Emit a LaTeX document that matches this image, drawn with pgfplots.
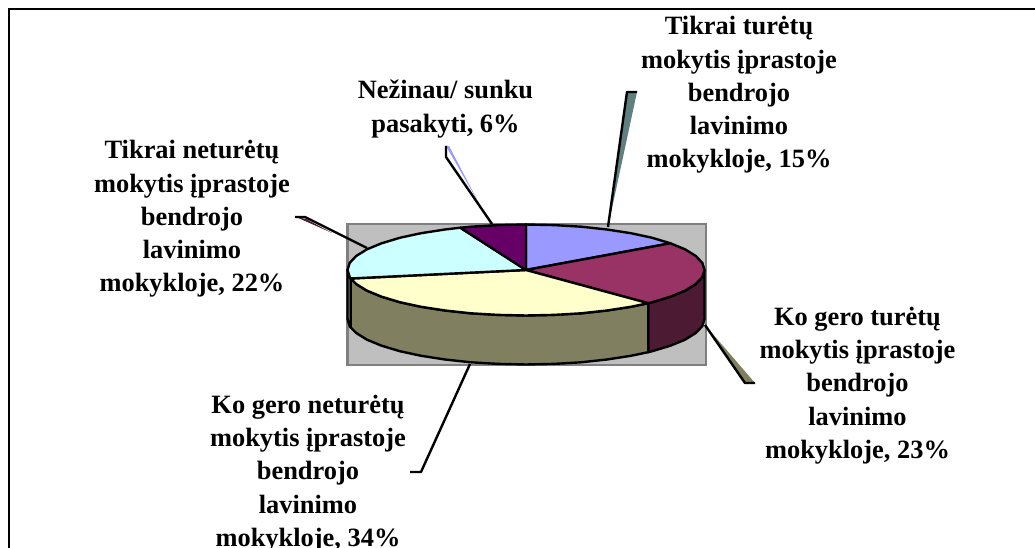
\documentclass[border=0pt]{standalone}
\usepackage{fontspec}
\setmainfont{Liberation Serif}
\usepackage{pgfplots}
\pgfplotsset{compat=1.18}
\definecolor{sliceA}{HTML}{9999FF}
\definecolor{sliceB}{HTML}{993366}
\definecolor{sliceC}{HTML}{FFFFCC}
\definecolor{sliceD}{HTML}{CCFFFF}
\definecolor{sliceE}{HTML}{660066}
\definecolor{wallB}{HTML}{4D1A33}
\definecolor{wallC}{HTML}{808060}
\definecolor{wallD}{HTML}{608080}
\tikzset{lbl/.style={font=\fontsize{19.8}{24.9}\selectfont\bfseries,align=center,anchor=center,inner sep=0pt}}
\begin{document}
\begin{tikzpicture}
\path[use as bounding box,clip] (0,0) rectangle (776.25pt,411pt);
\begin{axis}[
  at={(0pt,0pt)},anchor=south west,
  scale only axis,
  width=776.25pt,height=411pt,
  xmin=0,xmax=1035,ymin=0,ymax=548,
  y dir=reverse,
  hide axis,
  clip=false,
  every axis plot/.append style={line join=round,line width=1.8pt}
]
% outer frame, open at the right and bottom
\addplot[black,line width=2.2pt,line join=miter] coordinates {(9,548) (9,9) (1035,9)};
% plot area
\addplot[fill=black!25,draw=black!50,line join=miter] coordinates {(347.5,224) (706,224) (706,365) (347.5,365)} -- cycle;

% leader lines with their slivers
\addplot[fill=wallD,draw=none] coordinates {(627,92) (637,92) (608,227)} -- cycle;
\addplot[black] coordinates {(608,227) (627,92) (637,92)};
\addplot[fill=sliceA,draw=none] coordinates {(446,146) (449,146) (480,205)} -- cycle;
\addplot[black] coordinates {(492,224) (446,157) (446,146)};
\addplot[fill=wallB,draw=none] coordinates {(296,217) (306,219) (332,233)} -- cycle;
\addplot[black] coordinates {(367,248) (305,217) (295,217)};
\addplot[fill=wallC,draw=none] coordinates {(705,325) (745,383) (755,383)} -- cycle;
\addplot[black] coordinates {(705,325) (745,383) (755,383)};
\addplot[black] coordinates {(470,364) (421,472) (410,472)};

% side walls
\addplot[fill=wallB,draw=black] coordinates {
  (704.5,270) (702.3,277.1) (695.8,284) (685,290.7) (670.4,296.7) (652.2,302.2) (648.2,303.2)
  (648.2,352.2) (652.2,351.2) (670.4,345.7) (685,339.7) (695.8,333) (702.3,326.1) (704.5,319)
} -- cycle;
\addplot[fill=wallC,draw=black] coordinates {
  (648.2,303.2) (630.9,306.8) (607,310.5) (581.2,313.3) (553.9,314.9) (526,315.5) (498.1,314.9)
  (470.8,313.3) (445,310.5) (421.1,306.8) (399.8,302.2) (381.6,296.7) (367,290.7) (356.2,284) (350.7,278.5)
  (350.7,327.5) (356.2,333) (367,339.7) (381.6,345.7) (399.8,351.2) (421.1,355.8) (445,359.5)
  (470.8,362.3) (498.1,363.9) (526,364.5) (553.9,363.9) (581.2,362.3) (607,359.5) (630.9,355.8) (648.2,352.2)
} -- cycle;
\addplot[fill=wallD,draw=black] coordinates {
  (350.7,278.5) (349.7,277.1) (347.5,270) (347.5,319) (349.7,326.1) (350.7,327.5)
} -- cycle;

% top faces, clockwise from twelve o'clock: 15, 23, 34, 22, 6 percent
\addplot[fill=sliceA,draw=black] coordinates {
  (526,270) (526,224.5) (553.9,225.1) (581.2,226.7) (607,229.5) (630.9,233.2) (652.2,237.8) (670.4,243.3)
} -- cycle;
\addplot[fill=sliceB,draw=black] coordinates {
  (526,270) (670.4,243.3) (685,249.3) (695.8,256) (702.3,262.9) (704.5,270) (702.3,277.1) (695.8,284)
  (685,290.7) (670.4,296.7) (652.2,302.2) (648.2,303.2)
} -- cycle;
\addplot[fill=sliceC,draw=black] coordinates {
  (526,270) (648.2,303.2) (630.9,306.8) (607,310.5) (581.2,313.3) (553.9,314.9) (526,315.5) (498.1,314.9)
  (470.8,313.3) (445,310.5) (421.1,306.8) (399.8,302.2) (381.6,296.7) (367,290.7) (356.2,284) (350.7,278.5)
} -- cycle;
\addplot[fill=sliceD,draw=black] coordinates {
  (526,270) (350.7,278.5) (349.7,277.1) (347.5,270) (349.7,262.9) (356.2,256) (367,249.3) (381.6,243.3)
  (399.8,237.8) (421.1,233.2) (445,229.5) (460.3,227.7)
} -- cycle;
\addplot[fill=sliceE,draw=black] coordinates {
  (526,270) (460.3,227.7) (470.8,226.7) (498.1,225.1) (526,224.5)
} -- cycle;

% labels
\node[lbl] at (axis cs:739,95) {Tikrai turėtų\\mokytis įprastoje\\bendrojo\\lavinimo\\mokykloje, 15\%};
\node[lbl] at (axis cs:445.5,109) {Nežinau/ sunku\\pasakyti, 6\%};
\node[lbl] at (axis cs:192,219) {Tikrai neturėtų\\mokytis įprastoje\\bendrojo\\lavinimo\\mokykloje, 22\%};
\node[lbl] at (axis cs:857.5,385.5) {Ko gero turėtų\\mokytis įprastoje\\bendrojo\\lavinimo\\mokykloje, 23\%};
\node[lbl] at (axis cs:308,473.5) {Ko gero neturėtų\\mokytis įprastoje\\bendrojo\\lavinimo\\mokykloje, 34\%};
\end{axis}
\end{tikzpicture}
\end{document}
